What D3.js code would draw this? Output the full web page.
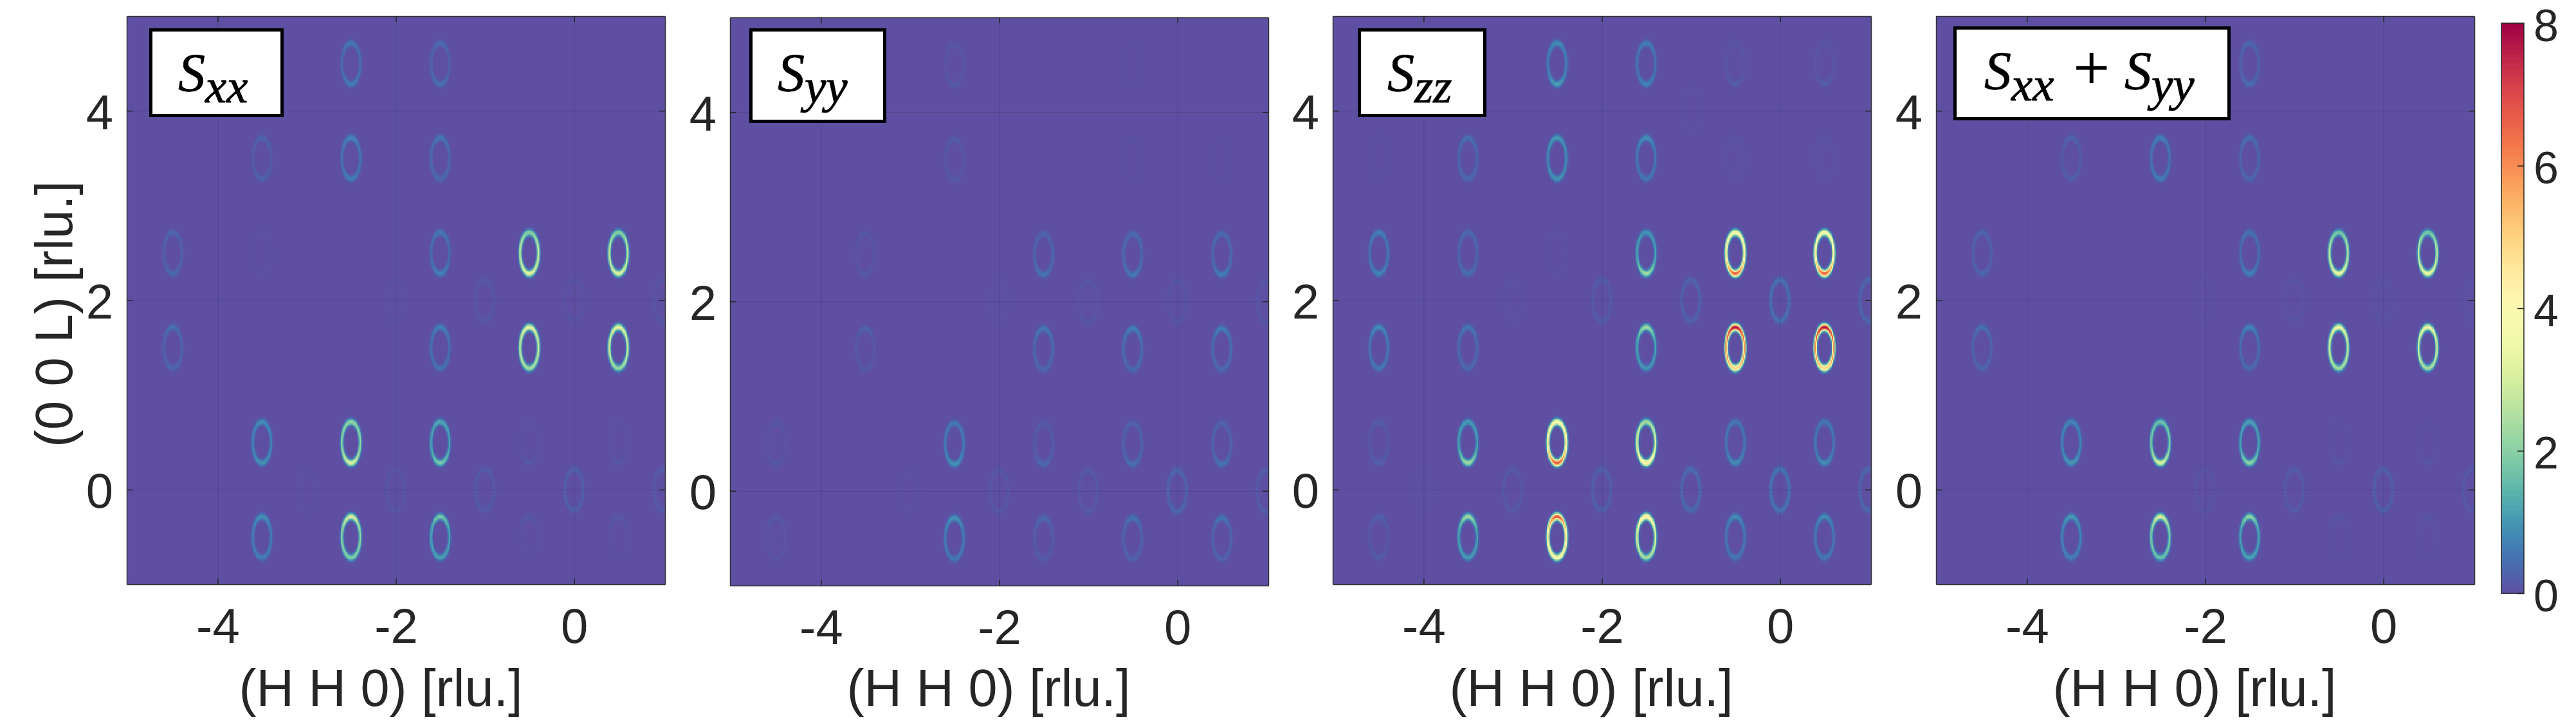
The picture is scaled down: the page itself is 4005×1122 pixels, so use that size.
<html>
<head>
<meta charset="utf-8">
<script src="https://d3js.org/d3.v7.min.js"></script>
<style>
    body, html { margin: 0; padding: 0; background: white; }
    svg { display: block; }
    text { font-family: "Liberation Sans", Arial, sans-serif; fill: #262626; }
    text.math { font-family: "Liberation Serif", serif; fill: black; stroke: black; stroke-width: 0.8px; }
</style>
</head>
<body>
<div id="my_dataviz"></div>
<script>
// every ring: [H, L, value at top, value at sides, value at bottom]
var sxxRings = [
    [-2.5,4.5,.6,.45,.7],[-1.5,4.5,.4,.3,.5],
    [-3.5,3.5,.3,.2,.3],[-2.5,3.5,.8,.55,.7],[-1.5,3.5,.6,.4,.4],
    [-4.5,2.5,.35,.25,.4],[-3.5,2.5,.05,.03,.05],[-1.5,2.5,.6,.45,.75],[-0.5,2.5,2,3,3.3],[0.5,2.5,2,2.8,3.2],
    [-4.5,1.5,.5,.3,.35],[-1.5,1.5,.75,.5,.55],[-0.5,1.5,3.4,3,2.4],[0.5,1.5,3.3,3,2.2],
    [-3.5,0.5,.9,.8,1],[-2.5,0.5,2.2,2.2,3.2],[-1.5,0.5,1.3,1.2,1.9],[-0.5,0.5,.05,.05,.15],[0.5,0.5,.05,.05,.15],
    [-3.5,-0.5,1,.7,.7],[-2.5,-0.5,3.2,2.2,2],[-1.5,-0.5,1.9,1.2,1.2],[-0.5,-0.5,.15,.05,.03],[0.5,-0.5,.15,.05,.03],
    [-3,0,.04,.04,.04],[-2,0,.1,.1,.1],[-1,0,.18,.18,.18],[0,0,.25,.25,.25],[1,0,.18,.18,.18],
    [-2,2,.05,.05,.05],[-1,2,.13,.13,.13],[0,2,.08,.08,.08],[1,2,.1,.1,.1]
];
var syyRings = [
    [-2.5,4.5,.12,.08,.18],[-0.5,4.5,.02,.02,.02],
    [-2.5,3.5,.2,.12,.16],[-0.5,3.5,.05,.02,.02],[0.5,3.5,.04,.02,.02],
    [-3.5,2.5,.12,.1,.15],[-1.5,2.5,.3,.35,.55],[-0.5,2.5,.4,.4,.6],[0.5,2.5,.4,.4,.7],
    [-3.5,1.5,.3,.15,.15],[-1.5,1.5,.6,.4,.35],[-0.5,1.5,.7,.45,.4],[0.5,1.5,.7,.45,.4],
    [-4.5,0.5,.12,.08,.12],[-2.5,0.5,.6,.7,1],[-1.5,0.5,.2,.2,.4],[-0.5,0.5,.3,.3,.5],[0.5,0.5,.3,.3,.55],
    [-4.5,-0.5,.15,.1,.08],[-2.5,-0.5,1,.7,.6],[-1.5,-0.5,.4,.2,.2],[-0.5,-0.5,.55,.3,.3],[0.5,-0.5,.6,.3,.3],
    [-3,0,.04,.04,.04],[-2,0,.13,.13,.13],[-1,0,.15,.15,.15],[0,0,.35,.35,.35],[1,0,.2,.2,.2],
    [-2,2,.04,.04,.04],[-1,2,.1,.1,.1],[0,2,.1,.1,.1],[1,2,.1,.1,.1]
];
var szzRings = [
    [-2.5,4.5,.9,.7,1.2],[-1.5,4.5,.7,.55,.8],[-0.5,4.5,.1,.1,.2],[0.5,4.5,.1,.1,.2],
    [-4.5,3.5,.03,.03,.03],[-3.5,3.5,.5,.35,.4],[-2.5,3.5,1.1,.9,1],[-1.5,3.5,.95,.6,.6],[-0.5,3.5,.06,.06,.06],[0.5,3.5,.06,.06,.06],
    [-4.5,2.5,.7,.6,.8],[-3.5,2.5,.4,.35,.5],[-2.5,2.5,.05,.05,.05],[-1.5,2.5,1,1.2,2.4],[-0.5,2.5,3.8,4.5,6.8],[0.5,2.5,3.8,4.5,6.8],
    [-4.5,1.5,.9,.6,.6],[-3.5,1.5,.6,.4,.4],[-1.5,1.5,2.4,1.2,1],[-0.5,1.5,8,6.2,5],[0.5,1.5,8,6.2,5],
    [-4.5,0.5,.2,.15,.25],[-3.5,0.5,1.1,1.2,2.4],[-2.5,0.5,4,4.6,7],[-1.5,0.5,2.4,3.2,4.6],[-0.5,0.5,.6,.6,.9],[0.5,0.5,.6,.6,.9],
    [-4.5,-0.5,.25,.15,.2],[-3.5,-0.5,2.4,1.2,1.1],[-2.5,-0.5,7,4.6,4],[-1.5,-0.5,4.6,3.2,2.4],[-0.5,-0.5,.9,.6,.6],[0.5,-0.5,.9,.6,.6],
    [-4,0,.03,.03,.03],[-3,0,.15,.15,.15],[-2,0,.25,.25,.25],[-1,0,.4,.4,.4],[0,0,.55,.55,.55],[1,0,.35,.35,.35],
    [-3,2,.05,.05,.05],[-2,2,.18,.18,.18],[-1,2,.3,.3,.3],[0,2,.5,.5,.5],[1,2,.35,.35,.35],[-1,4,.04,.04,.04]
];
var sumRings = [
    [-1.5,4.5,.35,.3,.45],
    [-3.5,3.5,.3,.2,.25],[-2.5,3.5,.75,.55,.7],[-1.5,3.5,.5,.35,.35],
    [-4.5,2.5,.3,.25,.35],[-1.5,2.5,.55,.45,.75],[-0.5,2.5,1.8,2.8,3.5],[0.5,2.5,1.8,2.8,3.5],
    [-4.5,1.5,.5,.3,.35],[-1.5,1.5,.8,.45,.4],[-0.5,1.5,3.6,3,2.4],[0.5,1.5,3.6,3,2.4],
    [-3.5,0.5,.8,.8,1.1],[-2.5,0.5,1.7,2,3.2],[-1.5,0.5,1.2,1.2,2.2],[-0.5,0.5,.03,.03,.12],[0.5,0.5,.03,.03,.12],
    [-3.5,-0.5,1.1,.8,.7],[-2.5,-0.5,3.2,2,1.7],[-1.5,-0.5,2.2,1.2,1.2],[-0.5,-0.5,.12,.03,.02],[0.5,-0.5,.12,.03,.02],
    [-2,0,.08,.08,.08],[-1,0,.18,.18,.18],[0,0,.25,.25,.25],[1,0,.15,.15,.15],
    [-2,2,.03,.03,.03],[-1,2,.08,.08,.08],[0,2,.06,.06,.06],[1,2,.06,.06,.06]
];

var xTicks = [-4, -2, 0];
var yTicks = [0, 2, 4];
var barTicks = [0, 2, 4, 6, 8];
var xTitle = "(H H 0) [rlu.]";
var yTitle = "(0 0 L) [rlu.]";

var w = 4005, h = 1122;
var panelW = 837, panelH = 883;
var ringX = 0.103, ringY = 0.217, ringSigma = 0.11, step = 0.015;

var color = function(v) { return d3.interpolateSpectral(1 - Math.min(v, 8) / 8); };

// box is the outer edge of the white legend: x0, y0, x1, y1
var panels = [
    { rings: sxxRings, left: 197, top: 25, titleX: 592, box: [232, 44, 441, 182], textX: 277, terms: [["S", "xx"]] },
    { rings: syyRings, left: 1135, top: 27, titleX: 1537, box: [1165, 44, 1378, 191], textX: 1209, terms: [["S", "yy"]] },
    { rings: szzRings, left: 2072, top: 25, titleX: 2474, box: [2111, 44, 2311, 182], textX: 2157, terms: [["S", "zz"]] },
    { rings: sumRings, left: 3010, top: 25, titleX: 3412, box: [3037, 41, 3468, 187], textX: 3085, terms: [["S", "xx"], ["S", "yy"]] }
];

var svg = d3.select("#my_dataviz")
    .append("svg")
    .attr("width", w)
    .attr("height", h);

// turn one ring into the small cells of the intensity map
function ringCells(r) {
    var cells = [];
    var rows = Math.ceil(ringY * 1.6 / step), cols = Math.ceil(ringX * 1.6 / step);
    for (var i = -cols; i <= cols; i++) {
        for (var j = -rows; j <= rows; j++) {
            var dx = i * step / ringX, dy = j * step / ringY;
            var rad = Math.sqrt(dx * dx + dy * dy) || 0.001;
            var t = dy / rad;
            var a = r[3] + ((t >= 0 ? r[2] : r[4]) - r[3]) * t * t;
            var v = a * Math.exp(-(rad - 1) * (rad - 1) / (2 * ringSigma * ringSigma));
            if (v > 0.015) cells.push({ h: r[0] + i * step, l: r[1] + j * step, v: v });
        }
    }
    return cells;
}

function styleAxis(a, size) {
    a.select(".domain").attr("stroke", "#333").attr("stroke-width", 1.5);
    a.selectAll("line").attr("stroke", "#262626").attr("stroke-width", 1.5);
    a.selectAll("text").style("font-family", "'Liberation Sans', Arial, sans-serif").style("font-size", size).attr("fill", "#262626");
}

panels.forEach(function(p, idx) {
    var x = d3.scaleLinear().domain([-5.02, 1.02]).range([0, panelW]);
    var y = d3.scaleLinear().domain([-1, 5]).range([panelH, 0]);

    var g = svg.append("g").attr("transform", "translate(" + p.left + "," + p.top + ")");

    g.append("clipPath").attr("id", "clip" + idx)
        .append("rect").attr("width", panelW).attr("height", panelH);

    g.append("rect")
        .attr("width", panelW)
        .attr("height", panelH)
        .attr("fill", color(0));

    var cellW = x(step) - x(0) + 0.7, cellH = y(0) - y(step) + 0.7;
    g.append("g")
        .attr("clip-path", "url(#clip" + idx + ")")
        .selectAll("rect")
        .data(p.rings.flatMap(ringCells))
        .enter()
        .append("rect")
        .attr("x", function(d) { return x(d.h) - cellW / 2; })
        .attr("y", function(d) { return y(d.l) - cellH / 2; })
        .attr("width", cellW)
        .attr("height", cellH)
        .attr("fill", function(d) { return color(d.v); });

    // grid lines
    var gridX = g.append("g").attr("transform", "translate(0," + panelH + ")")
        .call(d3.axisBottom(x).tickValues(xTicks).tickSize(-panelH).tickFormat(""));
    var gridY = g.append("g")
        .call(d3.axisLeft(y).tickValues(yTicks).tickSize(-panelW).tickFormat(""));
    [gridX, gridY].forEach(function(a) {
        a.select(".domain").remove();
        a.selectAll("line").attr("stroke", "#262626").attr("stroke-opacity", 0.2).attr("stroke-width", 1);
    });

    // axes, ticks point inwards
    var xAxis = g.append("g").attr("transform", "translate(0," + panelH + ")")
        .call(d3.axisBottom(x).tickValues(xTicks).tickSizeInner(-9).tickSizeOuter(0).tickPadding(37).tickFormat(String));
    var yAxis = g.append("g")
        .call(d3.axisLeft(y).tickValues(yTicks).tickSizeInner(-9).tickSizeOuter(0).tickPadding(21).tickFormat(String));
    var xTop = g.append("g")
        .call(d3.axisTop(x).tickValues(xTicks).tickSizeInner(-9).tickSizeOuter(0).tickFormat(""));
    var yRight = g.append("g").attr("transform", "translate(" + panelW + ",0)")
        .call(d3.axisRight(y).tickValues(yTicks).tickSizeInner(-9).tickSizeOuter(0).tickFormat(""));
    [xAxis, yAxis, xTop, yRight].forEach(function(a) { styleAxis(a, "76px"); });
    yAxis.selectAll("text").attr("dy", ".37em");

    // x title
    g.append("text")
        .attr("text-anchor", "middle")
        .attr("x", p.titleX - p.left)
        .attr("y", 1097 - p.top)
        .style("font-size", "81px")
        .text(xTitle);

    // legend box
    svg.append("rect")
        .attr("x", p.box[0] + 2.5)
        .attr("y", p.box[1] + 2.5)
        .attr("width", p.box[2] - p.box[0] - 5)
        .attr("height", p.box[3] - p.box[1] - 5)
        .attr("fill", "white")
        .attr("stroke", "black")
        .attr("stroke-width", 5);
    var label = svg.append("text")
        .attr("class", "math")
        .attr("x", p.textX)
        .attr("y", p.box[1] + 98)
        .style("font-size", "84px");
    p.terms.forEach(function(t, i) {
        if (i > 0) {
            label.append("tspan").attr("dx", 30).attr("dy", -17).style("font-size", "100px").text("+");
            label.append("tspan").attr("dx", 23).attr("font-style", "italic").text(t[0]);
        } else {
            label.append("tspan").attr("font-style", "italic").text(t[0]);
        }
        label.append("tspan").attr("font-style", "italic").attr("dy", 17).style("font-size", "75px").text(t[1]);
    });
});

// y title, only on the first panel
svg.append("text")
    .attr("text-anchor", "middle")
    .attr("transform", "translate(112,488) rotate(-90)")
    .style("font-size", "81px")
    .text(yTitle);

// colour bar
var barY = d3.scaleLinear().domain([0, 8]).range([922, 36]);
var barW = 35;
var barG = svg.append("g").attr("transform", "translate(3889,0)");
barG.selectAll("rect")
    .data(d3.range(0, 8, 0.02))
    .enter()
    .append("rect")
    .attr("x", 0)
    .attr("y", function(d) { return barY(d + 0.02); })
    .attr("width", barW)
    .attr("height", function(d) { return barY(d) - barY(d + 0.02) + 0.7; })
    .attr("fill", function(d) { return color(d + 0.01); });
barG.append("rect")
    .attr("y", barY(8))
    .attr("width", barW)
    .attr("height", barY(0) - barY(8))
    .attr("fill", "none")
    .attr("stroke", "#262626")
    .attr("stroke-width", 1.5);
var barAxis = barG.append("g").attr("transform", "translate(" + barW + ",0)")
    .call(d3.axisRight(barY).tickValues(barTicks).tickSizeInner(-10).tickSizeOuter(0).tickPadding(15).tickFormat(String));
barAxis.select(".domain").remove();
styleAxis(barAxis, "70px");
barAxis.selectAll("text").attr("dy", ".39em");
</script>
</body>
</html>
